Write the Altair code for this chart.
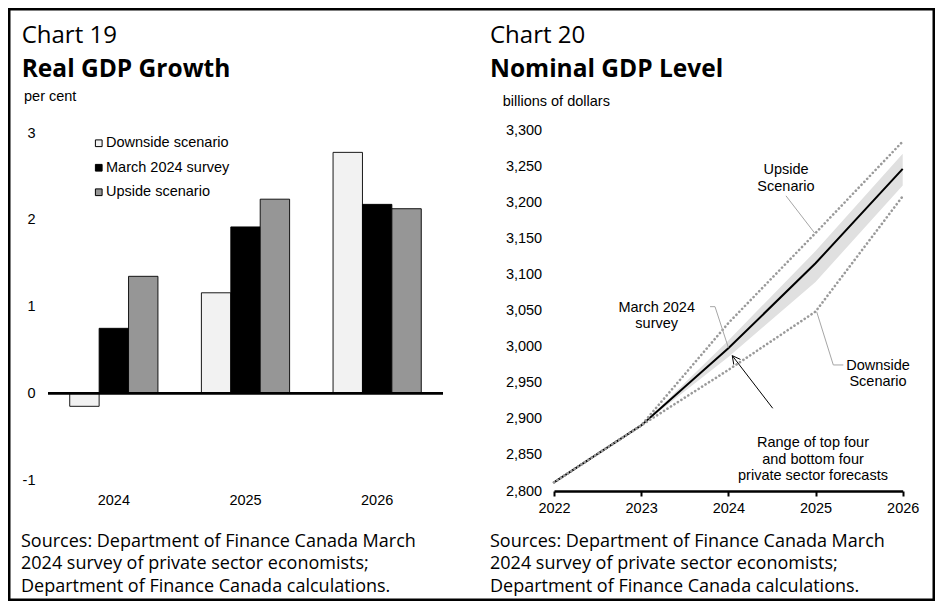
import altair as alt
import pandas as pd

# ---------------- Chart 19 data ----------------
bar_years = ["2024", "2025", "2026"]
scenarios = ["Downside scenario", "March 2024 survey", "Upside scenario"]
downside_growth = [-0.15, 1.16, 2.78]
march_growth = [0.75, 1.92, 2.18]
upside_growth = [1.35, 2.24, 2.13]
bar_colors = ["#f2f2f2", "#000000", "#969696"]
growth_ticks = [-1, 0, 1, 2, 3]

# ---------------- Chart 20 data ----------------
line_years = [2022, 2023, 2024, 2025, 2026]
march_level = [2812, 2891, 2998, 3116, 3247]
upside_level = [2812, 2891, 3033, 3158, 3285]
downside_level = [2812, 2891, 2968, 3049, 3209]
range_years = [2023, 2024, 2025, 2026]
range_low = [2891, 2986, 3090, 3224]
range_high = [2891, 3009, 3133, 3268]
level_ticks = [2800, 2850, 2900, 2950, 3000, 3050, 3100, 3150, 3200, 3250, 3300]

sources = ["Sources: Department of Finance Canada March",
           "2024 survey of private sector economists;",
           "Department of Finance Canada calculations."]

# ---------------- layout ----------------
W, H = 927, 593
FONT = "Liberation Sans"
TFONT = "Open Sans"
FS = 14.5

L_X = [40, 435]
L_Y = [472, 125.3]
R_X = [546, 894.7]
R_Y = [483, 122.7]


def txt(text, x, y, size, font=FONT, weight="normal", baseline="alphabetic",
        align="left", lh=None):
    kw = dict(fontSize=size, font=font, fontWeight=weight, baseline=baseline,
              align=align, color="black")
    if lh:
        kw["lineHeight"] = lh
    return alt.Chart(alt.Data(values=[{}])).mark_text(**kw).encode(
        x=alt.value(x), y=alt.value(y), text=alt.value(text))


# ---------------- left panel ----------------
bars_df = pd.DataFrame({
    "yr": bar_years * 3,
    "scenario": [s for s in scenarios for _ in bar_years],
    "value": downside_growth + march_growth + upside_growth,
})

bars = alt.Chart(bars_df).mark_bar(stroke="black", strokeWidth=0.9).encode(
    x=alt.X("yr:N",
            scale=alt.Scale(domain=bar_years, range=L_X, paddingInner=0.33, paddingOuter=0.165),
            axis=alt.Axis(orient="bottom", offset=485 - H, title=None, labelAngle=0,
                          domain=False, ticks=False, tickSize=0, labelPadding=0,
                          labelFontSize=FS, labelFont=FONT, labelColor="black", grid=False)),
    xOffset=alt.XOffset("scenario:N", scale=alt.Scale(domain=scenarios, paddingInner=0, paddingOuter=0)),
    y=alt.Y("value:Q", stack=None,
            scale=alt.Scale(domain=[-1, 3], range=L_Y, nice=False, zero=False),
            axis=alt.Axis(orient="left", offset=-27, values=growth_ticks,
                          labelExpr="'' + datum.value", title=None, domain=False,
                          ticks=False, tickSize=0, labelPadding=0, grid=False,
                          labelFontSize=FS, labelFont=FONT, labelColor="black",
                          labelFlush=False)),
    color=alt.Color("scenario:N", scale=alt.Scale(domain=scenarios, range=bar_colors),
                    legend=alt.Legend(orient="none", legendX=83.5, legendY=128, title=None,
                                      symbolType="square", symbolSize=45,
                                      symbolStrokeColor="black", symbolStrokeWidth=1,
                                      labelFontSize=FS, labelFont=FONT, labelColor="black",
                                      rowPadding=9.5, labelOffset=0, padding=0)),
)

zero_line = alt.Chart(alt.Data(values=[{}])).mark_rule(color="black", strokeWidth=2.7).encode(
    y=alt.datum(0), x=alt.value(L_X[0]), x2=alt.value(L_X[1]))

left = alt.layer(
    bars, zero_line,
    txt("Chart 19", 13.7, 35.3, 24, font=TFONT),
    txt("Real GDP Growth", 13.7, 69.3, 24.5, font=TFONT, weight="bold"),
    txt("per cent", 16, 88.7, FS, baseline="middle"),
    txt(sources, 13, 539, 18, font=TFONT, lh=22.3),
)

# ---------------- right panel ----------------
level_df = pd.DataFrame({
    "year": line_years * 3,
    "series": ["March 2024 survey"] * 5 + ["Upside Scenario"] * 5 + ["Downside Scenario"] * 5,
    "value": march_level + upside_level + downside_level,
})
range_df = pd.DataFrame({"year": range_years, "low": range_low, "high": range_high})

xr = alt.X("year:Q",
           scale=alt.Scale(domain=[2022, 2026], range=R_X, nice=False, zero=False),
           axis=alt.Axis(orient="bottom", offset=483 - H, values=line_years, format="d",
                         title=None, labelFlush=False, domainColor="black", domainWidth=2.7,
                         tickColor="black", tickWidth=2, tickSize=5, labelPadding=5.5,
                         labelFontSize=FS, labelFont=FONT, labelColor="black", grid=False))
yscale = alt.Scale(domain=[2800, 3300], range=R_Y, nice=False, zero=False)
yaxis = alt.Axis(orient="left", offset=-533.7, values=level_ticks, format=",d",
                 title=None, domain=False, ticks=False, tickSize=0, labelPadding=0,
                 grid=False, labelFontSize=FS, labelFont=FONT, labelColor="black",
                 labelFlush=False)

band = alt.Chart(range_df).mark_area(color="#e0e0e0").encode(
    x=xr, y=alt.Y("low:Q", scale=yscale, axis=yaxis), y2="high:Q")

solid = alt.Chart(level_df[level_df.series == "March 2024 survey"]).mark_line(
    color="black", strokeWidth=2).encode(x="year:Q", y="value:Q")

dotted = alt.Chart(level_df[level_df.series != "March 2024 survey"]).mark_line(
    color="#9a9a9a", strokeWidth=2.6, strokeDash=[0.1, 4], strokeCap="round").encode(
    x="year:Q", y="value:Q", detail="series:N")

leader_df = pd.DataFrame({
    "id": ["up", "up", "mar", "mar", "mar", "down", "down", "down"],
    "year": [2024.661, 2024.99, 2023.790, 2023.847, 2024.0, 2025.013, 2025.204, 2025.319],
    "value": [3209.6, 3158, 3055.8, 3055.8, 2999, 3048.8, 2974.9, 2974.9],
})
leaders = alt.Chart(leader_df).mark_line(color="#a6a6a6", strokeWidth=1).encode(
    x="year:Q", y="value:Q", detail="id:N")

arrow_df = pd.DataFrame({
    "id": ["shaft", "shaft", "a1", "a1", "a2", "a2"],
    "year": [2024.509, 2024.045, 2024.045, 2024.062, 2024.045, 2024.139],
    "value": [2914.8, 2987.8, 2987.8, 2975.5, 2987.8, 2982.6],
})
arrow = alt.Chart(arrow_df).mark_line(color="black", strokeWidth=1).encode(
    x="year:Q", y="value:Q", detail="id:N")


def note(lines, x, y):
    return alt.Chart(alt.Data(values=[{}])).mark_text(
        fontSize=FS, font=FONT, lineHeight=16.5, align="center", baseline="middle",
        color="black").encode(x=alt.datum(x), y=alt.datum(y), text=alt.value(lines))


right = alt.layer(
    band, solid, dotted, leaders, arrow,
    note(["Upside", "Scenario"], 2024.661, 3245),
    note(["March 2024", "survey"], 2023.178, 3054.6),
    note(["Downside", "Scenario"], 2025.717, 2973.5),
    note(["Range of top four", "and bottom four", "private sector forecasts"], 2024.971, 2866.2),
    txt("Chart 20", 482, 35.3, 24, font=TFONT),
    txt("Nominal GDP Level", 482, 69.3, 24.5, font=TFONT, weight="bold"),
    txt("billions of dollars", 494.7, 93.7, FS, baseline="middle"),
    txt(sources, 482, 539, 18, font=TFONT, lh=22.3),
)

frame = alt.Chart(alt.Data(values=[{}])).mark_rect(
    fillOpacity=0, stroke="black", strokeWidth=2.5).encode(
    x=alt.value(1.25), y=alt.value(1.25), x2=alt.value(W - 1.25), y2=alt.value(H - 1.25))

chart = alt.layer(left, right, frame).resolve_scale(
    x="independent", y="independent", color="independent"
).properties(
    width=W, height=H, padding=0,
    autosize=alt.AutoSizeParams(type="none"),
).configure_view(stroke=None)

chart.save("out.html", embed_options={"renderer": "svg", "actions": False})
